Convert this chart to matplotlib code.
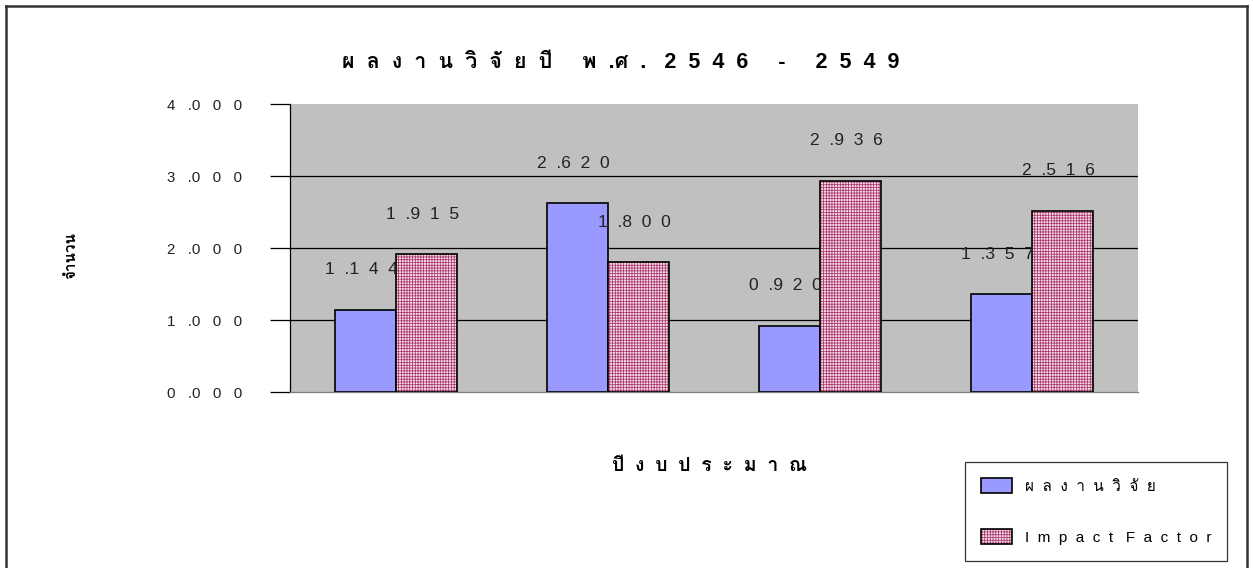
import unicodedata
import matplotlib
matplotlib.use("Agg")
import matplotlib.pyplot as plt
from matplotlib.lines import Line2D
from matplotlib.patches import Patch

plt.rcParams["font.family"] = ["Liberation Sans", "Loma"]
plt.rcParams["hatch.linewidth"] = 0.55

title = "ผลงานวิจัยปี พ.ศ. 2546 - 2549"
xlabel = "ปีงบประมาณ"
ylabel = "จำนวน"
series_names = ["ผลงานวิจัย", "Impact Factor"]
years = ["2546", "2547", "2548", "2549"]
research = [1.144, 2.620, 0.920, 1.357]
impact = [1.915, 1.800, 2.936, 2.516]
yticks = [0, 1, 2, 3, 4]


def spaced(s, sep="  ", wide_words=True):
    # spread the letters out, keeping Thai combining marks on their base letter
    parts = []
    for ch in s:
        if parts and unicodedata.category(ch) == "Mn":
            parts[-1] += ch
        elif parts and ch == " " and not wide_words:
            parts[-1] += ch
        else:
            parts.append(ch)
    return sep.join(parts).replace(sep + "." + sep, sep + ".")


def num(v, sep="  "):
    return spaced(f"{v:.3f}", sep)


fig = plt.figure(figsize=(12.53, 5.68), dpi=100)
ax = fig.add_axes([290 / 1253, 176 / 568, 848 / 1253, 288 / 568])
ax.set_facecolor("#C0C0C0")

x = list(range(len(years)))
w = 0.29
blue_x = [i - w / 2 for i in x]
pink_x = [i + w / 2 for i in x]

ax.bar(blue_x, research, width=w, color="#9999FF", edgecolor="black", linewidth=1.2, zorder=3)
ax.bar(pink_x, impact, width=w, facecolor="#F6DCE8", edgecolor="#A8386C",
       hatch="++++++", linewidth=0, zorder=3)
ax.bar(pink_x, impact, width=w, fill=False, edgecolor="black", linewidth=1.2, zorder=4)

for xs, vals in ((blue_x, research), (pink_x, impact)):
    for xi, v in zip(xs, vals):
        ax.annotate(num(v), (xi, v), xytext=(-4, 40), textcoords="offset pixels",
                    ha="center", va="center", fontsize=12.5, color="#222222", zorder=5)

for g in yticks[1:-1]:
    ax.axhline(g, color="black", linewidth=0.9, zorder=1)

ax.set_xlim(-0.5, len(years) - 0.5)
ax.set_ylim(0, 4)
ax.set_xticks([])
ax.set_yticks(yticks)
ax.set_yticklabels([num(v, "   ") for v in yticks], fontsize=10.8, color="#222222")
ax.tick_params(axis="y", direction="out", length=14.5, width=0.9, pad=20)
for side in ("top", "right"):
    ax.spines[side].set_visible(False)
ax.spines["left"].set_linewidth(0.9)
ax.spines["bottom"].set_color("#808080")
ax.spines["bottom"].set_linewidth(0.9)

fig.text(0.495, 0.89, spaced(title), ha="center", va="center", fontsize=15.5, fontweight="bold")
fig.text(0.566, 0.178, spaced(xlabel), ha="center", va="center", fontsize=14, fontweight="bold")
fig.text(0.057, 0.55, ylabel, ha="center", va="center", rotation=90, fontsize=11, fontweight="bold")

handles = [
    Patch(facecolor="#9999FF", edgecolor="black", linewidth=1.2),
    (Patch(facecolor="#F6DCE8", edgecolor="#A8386C", hatch="++++++", linewidth=0),
     Patch(fill=False, edgecolor="black", linewidth=1.2)),
]
leg = fig.legend(handles, [spaced(n, wide_words=False) for n in series_names],
                 loc="upper left", bbox_to_anchor=(965 / 1253, 1 - 462 / 568), fontsize=11,
                 frameon=True, fancybox=False, handlelength=2.0, handleheight=1.15,
                 handletextpad=0.85, labelspacing=2.3, borderpad=1.05, borderaxespad=0)
leg.get_frame().set_edgecolor("black")
leg.get_frame().set_linewidth(0.9)

# chart border on three sides
frame_kw = dict(color="#333333", linewidth=1.8, transform=fig.transFigure)
fig.add_artist(Line2D([6 / 1253, 6 / 1253], [0, 1 - 6 / 568], **frame_kw))
fig.add_artist(Line2D([6 / 1253, 1247 / 1253], [1 - 6 / 568, 1 - 6 / 568], **frame_kw))
fig.add_artist(Line2D([1247 / 1253, 1247 / 1253], [0, 1 - 6 / 568], **frame_kw))

fig.savefig("out.png")
